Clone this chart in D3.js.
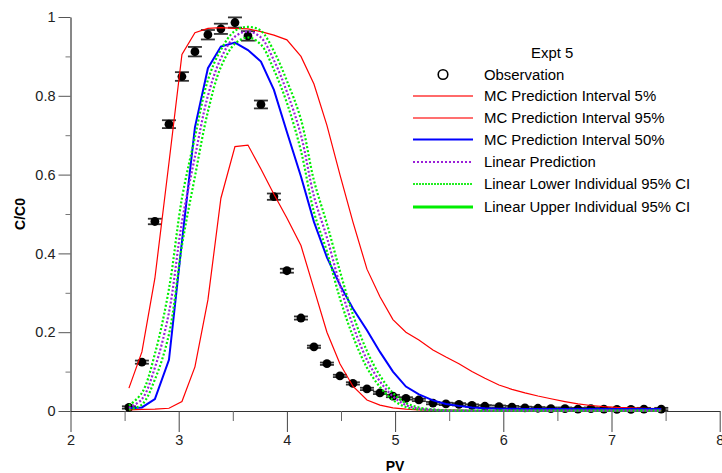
<!DOCTYPE html>
<html><head><meta charset="utf-8">
<script src="https://cdn.jsdelivr.net/npm/d3@7"></script>
<style>
html,body{margin:0;padding:0;background:#fff;}
svg{display:block;font-family:"Liberation Sans",Arial,sans-serif;}
</style></head>
<body>
<svg id="chart" width="722" height="473"></svg>
<script>
// ---- data ----
const pv = [2.54,2.66,2.78,2.91,3.03,3.15,3.27,3.39,3.52,3.64,3.76,3.88,4.00,4.13,4.25,4.37,4.49,4.61,4.74,4.86,
            4.98,5.10,5.22,5.35,5.47,5.59,5.71,5.83,5.96,6.08,6.20,6.32,6.44,6.57,6.69,6.81,6.93,7.05,7.18,7.30,7.46];
const observation = [0.009,0.124,0.481,0.728,0.849,0.912,0.955,0.970,0.986,0.952,0.778,0.544,0.356,0.236,0.163,0.120,0.089,0.070,0.056,0.046,
            0.038,0.032,0.028,0.020,0.018,0.017,0.014,0.012,0.011,0.010,0.008,0.007,0.006,0.006,0.005,0.006,0.005,0.004,0.004,0.005,0.005];
const obsError = [0.003,0.004,0.007,0.010,0.011,0.012,0.012,0.013,0.013,0.012,0.010,0.008,0.005,0.004,0.003,0.003,0.003,0.003,0.003,0.003,
            0.003,0.003,0.003,0.003,0.003,0.003,0.003,0.003,0.003,0.003,0.003,0.003,0.003,0.003,0.003,0.003,0.003,0.003,0.003,0.003,0.003];
const mc5 = [0.003,0.004,0.005,0.007,0.024,0.112,0.282,0.540,0.671,0.675,0.614,0.550,0.490,0.420,0.310,0.200,0.120,0.063,0.028,0.015,
            0.008,0.005,0.003,0.002,0.002,0.002,0.001,0.001,0.001,0.001,0.001,0.001,0.001,0.001,0.001,0.001,0.001,0.001,0.001,0.001,0.001];
const mc95 = [0.058,0.150,0.337,0.630,0.905,0.960,0.971,0.973,0.971,0.970,0.963,0.954,0.942,0.900,0.830,0.725,0.600,0.480,0.360,0.290,
            0.232,0.200,0.180,0.155,0.137,0.120,0.100,0.083,0.066,0.055,0.046,0.038,0.031,0.024,0.018,0.014,0.011,0.009,0.008,0.007,0.006];
const mc50 = [0.007,0.009,0.030,0.130,0.430,0.720,0.870,0.925,0.935,0.916,0.887,0.815,0.708,0.595,0.480,0.390,0.320,0.260,0.205,0.150,
            0.100,0.062,0.042,0.027,0.018,0.013,0.009,0.007,0.006,0.006,0.005,0.005,0.005,0.005,0.005,0.005,0.005,0.005,0.005,0.005,0.005];
const linearPred = [0.008,0.030,0.110,0.250,0.480,0.645,0.800,0.895,0.950,0.963,0.948,0.890,0.810,0.700,0.545,0.440,0.320,0.217,0.130,0.075,
            0.037,0.015,0.006,0.003,0.001,0.001,0.001,0.001,0.001,0.001,0.001,0.001,0.001,0.001,0.001,0.001,0.001,0.001,0.001,0.001,0.001];
const linearLower = [0.004,0.016,0.080,0.195,0.420,0.595,0.760,0.873,0.932,0.948,0.930,0.866,0.782,0.660,0.505,0.405,0.286,0.190,0.110,0.061,
            0.028,0.010,0.004,0.002,0.001,0.001,0.001,0.001,0.001,0.001,0.001,0.001,0.001,0.001,0.001,0.001,0.001,0.001,0.001,0.001,0.001];
const linearUpper = [0.014,0.046,0.145,0.310,0.540,0.695,0.840,0.917,0.965,0.975,0.965,0.913,0.838,0.740,0.585,0.475,0.355,0.245,0.152,0.090,
            0.046,0.020,0.009,0.004,0.002,0.001,0.001,0.001,0.001,0.001,0.001,0.001,0.001,0.001,0.001,0.001,0.001,0.001,0.001,0.001,0.001];
const xTicks = [2,3,4,5,6,7,8];
const xMinorTicks = [2.5,3.5,4.5,5.5,6.5,7.5];
const yTicks = [0,0.2,0.4,0.6,0.8,1];
const yMinorTicks = [0.1,0.3,0.5,0.7,0.9];
const legendTitle = "Expt 5";
const legendLabels = ["Observation","MC Prediction Interval 5%","MC Prediction Interval 95%","MC Prediction Interval 50%",
                      "Linear Prediction","Linear Lower Individual 95% CI","Linear Upper Individual 95% CI"];

// ---- drawing ----
const svg = d3.select("#chart");
const FONT = 14.5;
const LFONT = 14.9;
const x = d3.scaleLinear().domain([2,8]).range([70.5,719.7]);
const y = d3.scaleLinear().domain([0,1]).range([411,17]);

// axes
const gx = svg.append("g").attr("transform","translate(0,411)");
gx.call(d3.axisBottom(x).tickValues(xTicks).tickSize(21).tickSizeOuter(0).tickPadding(3).tickFormat(d3.format("d")));
gx.select(".domain").attr("stroke","#333");
gx.selectAll(".tick line").attr("stroke","#444");
gx.selectAll("text").attr("font-size",FONT).attr("fill","#222").attr("font-family","Liberation Sans, Arial, sans-serif");
const gxm = svg.append("g").attr("transform","translate(0,411)");
gxm.call(d3.axisBottom(x).tickValues(xMinorTicks).tickSize(10).tickFormat(""));
gxm.select(".domain").remove();
gxm.selectAll(".tick line").attr("stroke","#666");

const gy = svg.append("g").attr("transform","translate(70.5,0)");
gy.call(d3.axisLeft(y).tickValues(yTicks).tickSize(12).tickSizeOuter(0).tickPadding(3).tickFormat(d => d === 0 || d === 1 ? String(d) : d3.format(".1f")(d)));
gy.select(".domain").attr("stroke","#111");
gy.selectAll(".tick line").attr("stroke","#555");
gy.selectAll("text").attr("font-size",FONT).attr("fill","#222").attr("font-family","Liberation Sans, Arial, sans-serif");
const gym = svg.append("g").attr("transform","translate(70.5,0)");
gym.call(d3.axisLeft(y).tickValues(yMinorTicks).tickSize(5).tickFormat(""));
gym.select(".domain").remove();
gym.selectAll(".tick line").attr("stroke","#777");

// axis titles
svg.append("text").attr("x",(70.5+719.7)/2).attr("y",471).attr("text-anchor","middle")
  .attr("font-size",14).attr("font-weight","bold").text("PV");
svg.append("text").attr("transform","translate(25,214) rotate(-90)").attr("text-anchor","middle")
  .attr("font-size",14).attr("font-weight","bold").text("C/C0");

// observations with error bars
const obs = pv.map((p,i)=>({p, c:observation[i], e:obsError[i]}));
const eb = svg.append("g");
obs.forEach(d=>{
  const cx = x(d.p);
  eb.append("line").attr("x1",cx).attr("x2",cx).attr("y1",y(d.c+d.e)).attr("y2",y(d.c-d.e)).attr("stroke","#222").attr("stroke-width",1.2);
  [d.c+d.e, d.c-d.e].forEach(v=>{
    eb.append("line").attr("x1",cx-7).attr("x2",cx+7).attr("y1",y(v)).attr("y2",y(v)).attr("stroke","#333").attr("stroke-width",1.8);
  });
});
svg.append("g").selectAll("circle").data(obs).join("circle")
  .attr("cx",d=>x(d.p)).attr("cy",d=>y(d.c)).attr("r",4.4).attr("fill","#000");

// lines
const series = [
  {vals:mc5, color:"#ff0000", w:1.2, dash:null, curve:d3.curveLinear},
  {vals:mc95, color:"#ff0000", w:1.2, dash:null, curve:d3.curveLinear},
  {vals:mc50, color:"#0000ff", w:2, dash:null, curve:d3.curveLinear},
  {vals:linearLower, color:"#00ee00", w:2.2, dash:"2,2", curve:d3.curveCatmullRom},
  {vals:linearUpper, color:"#00ee00", w:2.2, dash:"2,2", curve:d3.curveCatmullRom},
  {vals:linearPred, color:"#9a20d8", w:2.2, dash:"2,2", curve:d3.curveCatmullRom}
];
series.forEach(s=>{
  const line = d3.line().x((d,i)=>x(pv[i])).y(d=>y(d)).curve(s.curve);
  svg.append("path").attr("d",line(s.vals)).attr("fill","none").attr("stroke",s.color)
    .attr("stroke-width",s.w).attr("stroke-dasharray",s.dash);
});

// legend
const lg = svg.append("g");
lg.append("text").attr("x",531).attr("y",57.5).attr("font-size",LFONT).attr("fill","#000").text(legendTitle);
const rows = [
  {y:74.5, type:"circle"},
  {y:96, type:"line", color:"#ff6a6a", w:2, dash:null},
  {y:118, type:"line", color:"#ff4040", w:1.6, dash:null},
  {y:139.5, type:"line", color:"#0000ff", w:2, dash:null},
  {y:162, type:"line", color:"#9a20d8", w:2, dash:"2,2"},
  {y:184, type:"line", color:"#22ee22", w:1.8, dash:"2,1"},
  {y:207, type:"line", color:"#00ee00", w:3, dash:null}
];
rows.forEach((r,i)=>{
  if (r.type === "circle") {
    lg.append("circle").attr("cx",443).attr("cy",r.y).attr("r",4.8).attr("fill","none").attr("stroke","#000").attr("stroke-width",1.6);
  } else {
    lg.append("line").attr("x1",413).attr("x2",473).attr("y1",r.y).attr("y2",r.y)
      .attr("stroke",r.color).attr("stroke-width",r.w).attr("stroke-dasharray",r.dash);
  }
  lg.append("text").attr("x",484).attr("y",r.y+5).attr("font-size",LFONT).attr("fill","#000").text(legendLabels[i]);
});
</script>
</body></html>
